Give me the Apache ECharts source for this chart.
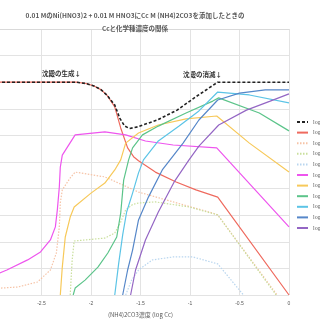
<!DOCTYPE html>
<html>
<head>
<meta charset="utf-8">
<script src="https://cdn.jsdelivr.net/npm/echarts@6/dist/echarts.min.js"></script>
<style>
  html, body { margin: 0; padding: 0; background: #fff; }
  #main { width: 320px; height: 320px; }
</style>
</head>
<body>
<div id="main"></div>
<script>
  // 横軸 log Cc、縦軸 log 濃度
  var xTicks = [-3, -2.5, -2, -1.5, -1, -0.5, 0];

  // 凡例名（右端で切れている）
  var names = [
    "log[Ni]total", "log[Ni2+]", "log[NiOH+]", "log[NiCO3]", "log[Ni(CO3)2 2-]",
    "log[Ni(NH3)2+]", "log[Ni(NH3)2 2+]", "log[Ni(NH3)3 2+]", "log[Ni(NH3)4 2+]",
    "log[Ni(NH3)5 2+]", "log[Ni(NH3)6 2+]"
  ];

  // 各化学種の値 [log Cc, log 濃度]
  var totalNi = [[-3, -2], [-2.15, -2], [-2.05, -2.05], [-1.97, -2.14], [-1.9, -2.28], [-1.84, -2.48], [-1.76, -2.86],
    [-1.71, -3.35], [-1.66, -3.65], [-1.61, -3.74], [-1.53, -3.68], [-1.33, -3.42], [-1.13, -3.05],
    [-0.93, -2.52], [-0.72, -2], [0, -2]];
  var ni2 = [[-3, -2], [-2.15, -2], [-2.05, -2.05], [-1.97, -2.14], [-1.9, -2.28], [-1.84, -2.48], [-1.76, -2.93],
    [-1.70, -3.72], [-1.63, -4.47], [-1.57, -4.8], [-1.52, -4.95], [-1.35, -5.38], [-1.14, -5.75], [-0.94, -6.05],
    [-0.72, -6.32], [0, -10]];
  var salmonDot = [[-3, -9.76], [-2.74, -9.70], [-2.54, -9.51], [-2.41, -9.06], [-2.35, -8.42],
    [-2.32, -7.44], [-2.31, -6.54], [-2.29, -6.05], [-2.21, -5.60], [-2.16, -5.38], [-1.86, -5.56],
    [-1.52, -6.13], [-1.17, -6.50], [-0.77, -6.92], [-0.72, -6.99], [-0.12, -10]];
  var greenDot = [[-2.21, -10], [-2.19, -8.68], [-2.17, -7.97], [-1.86, -7.86], [-1.76, -7.67],
    [-1.70, -7.26], [-1.65, -6.80], [-1.58, -6.6], [-1.52, -6.54], [-1.35, -6.50], [-1.01, -6.69], [-0.72, -6.99],
    [-0.13, -10]];
  var blueDot = [[-1.65, -10], [-1.59, -9.44], [-1.52, -9.06], [-1.38, -8.68], [-1.17, -8.57],
    [-0.97, -8.57], [-0.72, -8.83], [-0.46, -10]];
  var magenta = [[-3, -9.3], [-2.85, -9.06], [-2.64, -8.68], [-2.51, -8.38], [-2.41, -7.93],
    [-2.36, -7.44], [-2.34, -6.80], [-2.32, -5.94], [-2.31, -5.19], [-2.29, -4.74], [-2.16, -3.98],
    [-1.86, -3.87], [-1.65, -3.98], [-1.45, -4.21], [-1.17, -4.36], [-0.73, -4.47], [0, -7.44]];
  var yellow = [[-2.31, -10], [-2.29, -8.95], [-2.26, -7.82], [-2.21, -7.07], [-2.17, -6.69],
    [-2.0, -6.17], [-1.86, -5.79], [-1.76, -5.30], [-1.70, -4.92], [-1.65, -4.29], [-1.52, -3.91],
    [-1.32, -3.61], [-1.04, -3.38], [-0.73, -3.27], [-0.40, -4.29], [0, -5.38]];
  var green = [[-2.18, -10], [-2.16, -9.74], [-2.06, -9.44], [-1.93, -8.95], [-1.83, -8.42],
    [-1.74, -7.82], [-1.70, -6.92], [-1.67, -5.68], [-1.62, -4.92], [-1.58, -4.47], [-1.48, -3.98],
    [-1.32, -3.65], [-1.04, -3.16], [-0.77, -2.71], [-0.71, -2.59], [-0.30, -3.16], [0, -3.83]];
  var cyan = [[-1.76, -10], [-1.72, -8.80], [-1.68, -7.74], [-1.64, -6.88], [-1.58, -6.17],
    [-1.52, -5.41], [-1.47, -4.92], [-1.32, -4.21], [-1.11, -3.65], [-0.91, -3.08], [-0.72, -2.37],
    [-0.40, -2.48], [0, -2.78]];
  var steel = [[-1.68, -10], [-1.63, -9.06], [-1.58, -8.31], [-1.52, -7.18], [-1.42, -6.32],
    [-1.28, -5.30], [-1.07, -4.29], [-0.91, -3.42], [-0.72, -2.67], [-0.50, -2.41], [-0.24, -2.29],
    [0, -2.29]];
  var purple = [[-1.60, -10], [-1.55, -9.06], [-1.45, -7.93], [-1.32, -6.88], [-1.16, -5.75],
    [-1.01, -4.92], [-0.91, -4.40], [-0.71, -3.61], [-0.43, -3.05], [-0.19, -2.71], [0, -2.44]];

  var seriesData = [totalNi, ni2, salmonDot, greenDot, blueDot, magenta, yellow, green, cyan, steel, purple];
  var colors = ["#222222", "#ef6a5e", "#f6c3a6", "#c9df9c", "#b9d6ef", "#ee55ee",
    "#f7c95a", "#5cc48a", "#5cc4e6", "#5687c9", "#9466c4"];
  var lineTypes = [[3, 2], "solid", [1.5, 1.5], [1.5, 1.5], [1.5, 1.5], "solid",
    "solid", "solid", "solid", "solid", "solid"];

  var myChart = echarts.init(document.getElementById("main"));

  var series = [];
  // 赤線を下に、黒点線を上に描く
  for (var i = 0; i < seriesData.length; i++) {
    series.push({
      name: names[i],
      type: "line",
      data: seriesData[i],
      symbol: "none",
      smooth: false,
      z: i === 0 ? 5 : 2,
      lineStyle: {
        color: colors[i],
        width: i === 0 ? 1.6 : 1.2,
        type: lineTypes[i],
      },
      itemStyle: { color: colors[i] },
    });
  }

  var option = {
    animation: false,
    title: {
      text: "0.01 MのNi(HNO3)2 + 0.01 M HNO3にCc M (NH4)2CO3を添加したときの\nCcと化学種濃度の関係",
      left: 130,
      top: 4,
      textAlign: "center",
      textStyle: {
        fontSize: 6.5,
        fontWeight: "bold",
        color: "#595959",
        lineHeight: 13,
        fontFamily: "Noto Sans CJK JP",
      },
    },
    legend: {
      data: names,
      orient: "vertical",
      left: 296,
      top: 118,
      padding: 0,
      itemWidth: 11,
      itemHeight: 8,
      itemGap: 2.6,
      itemStyle: { opacity: 0 },
      textStyle: { fontSize: 6, color: "#595959", lineHeight: 8, fontFamily: "Liberation Serif" },
    },
    grid: {
      left: -8,
      right: 31,
      top: 29,
      bottom: 25,
      outerBoundsMode: "none",
    },
    xAxis: {
      type: "value",
      min: xTicks[0],
      max: xTicks[xTicks.length - 1],
      interval: 0.5,
      name: "(NH4)2CO3濃度 (log Cc)",
      nameLocation: "middle",
      nameGap: 17,
      nameTextStyle: { fontSize: 6, color: "#595959", fontFamily: "Noto Sans CJK JP" },
      axisLine: { lineStyle: { color: "#d9d9d9" } },
      axisTick: { show: false },
      axisLabel: { fontSize: 5, color: "#595959", margin: 6 },
      splitLine: { show: true, lineStyle: { color: "#e3e3e3" } },
    },
    yAxis: {
      type: "value",
      min: -10,
      max: 0,
      interval: 1,
      axisLine: { show: false },
      axisTick: { show: false },
      axisLabel: { show: false },
      splitLine: { show: true, lineStyle: { color: "#e3e3e3" } },
    },
    graphic: [
      {
        type: "text",
        left: 42,
        top: 70,
        style: { text: "沈殿の生成↓", fontSize: 6.5, fontWeight: "bold", fill: "#333", fontFamily: "Noto Sans CJK JP" },
      },
      {
        type: "text",
        left: 183,
        top: 71,
        style: { text: "沈殿の消滅↓", fontSize: 6.5, fontWeight: "bold", fill: "#333", fontFamily: "Noto Sans CJK JP" },
      },
    ],
    series: series,
  };

  myChart.setOption(option);
</script>
</body>
</html>
